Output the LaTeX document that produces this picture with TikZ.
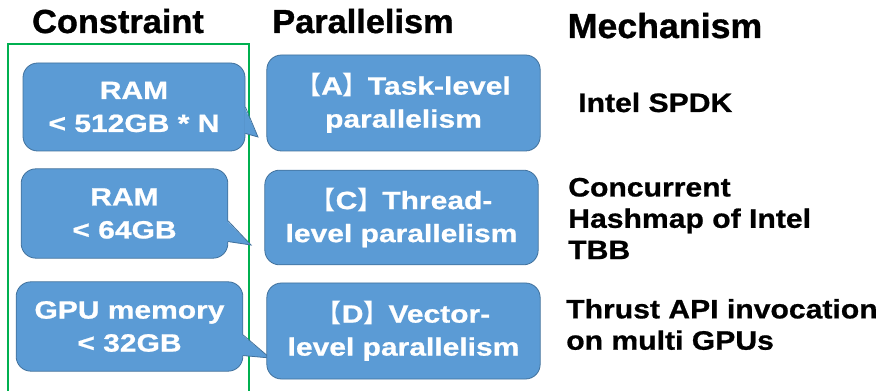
\documentclass[tikz,border=0pt]{standalone}
\usepackage{fontspec}
\setmainfont{Liberation Sans}
\newfontfamily\headfont{Liberation Sans}[FakeStretch=1.03,FakeBold=1]
\newfontfamily\boxfont{Liberation Sans}[FakeStretch=1.2,FakeBold=0.8]
\newfontfamily\mechfont{Liberation Sans}[FakeStretch=1.13,FakeBold=0.8]
\newfontfamily\cjk{Noto Sans CJK SC}
\usetikzlibrary{positioning,calc}
\definecolor{boxblue}{RGB}{91,155,213}
\definecolor{boxedge}{RGB}{65,113,156}
\definecolor{framegreen}{RGB}{0,176,80}

\begin{document}
\begin{tikzpicture}[x=0.75pt,y=-0.75pt,
    head/.style={font=\headfont\bfseries\fontsize{25}{30}\selectfont,inner sep=0pt,anchor=base},
    cons/.style={rectangle,rounded corners=11pt,draw=boxedge,line width=0.6pt,fill=boxblue,text=white,align=center,inner sep=0pt,font=\boxfont\bfseries\fontsize{18.75}{24.75}\selectfont},
    para/.style={cons,minimum width=205pt,minimum height=72pt},
    mech/.style={align=left,inner sep=0pt,anchor=west,font=\mechfont\bfseries\fontsize{20}{23.5}\selectfont},
    ptr/.style={draw=boxedge,line width=0.6pt}
]
    \useasboundingbox (0,0) rectangle (888,391);
    \draw[framegreen,line width=1.2pt] (8,395) -- (8,44) -- (249,44) -- (249,395);

    \node[head] (hcons) at (118,33) {Constraint};
    \node[head] (hpara) at (363,33) {Parallelism};
    \node[head,font=\headfont\bfseries\fontsize{26}{30}\selectfont] (hmech) at (665,38) {Mechanism};

    \node[cons,minimum width=166.5pt,minimum height=66pt] (ram1) at (134,107) {RAM\\< 512GB * N};
    \node[cons,minimum width=155pt,minimum height=67pt] (ram2) at (124.5,213.5) {RAM\\< 64GB};
    \node[cons,minimum width=170pt,minimum height=67pt] (gpu) at (129.5,326.5) {GPU memory\\< 32GB};

    \coordinate (p1) at (258,137);
    \coordinate (p2) at (251,245);
    \coordinate (p3) at (270,358);
    \fill[boxblue] ($(ram1.east)+(-1,0)$) -- (p1) -- ($(ram1.south east)+(-1,-18)$) -- cycle;
    \draw[ptr] (ram1.east) -- (p1) -- ($(ram1.south east)+(0,-18)$);
    \fill[boxblue] ($(ram2.east)+(-1,7.5)$) -- (p2) -- ($(ram2.south east)+(-1,-17)$) -- cycle;
    \draw[ptr] ($(ram2.east)+(0,7.5)$) -- (p2) -- ($(ram2.south east)+(0,-17)$);
    \fill[boxblue] ($(gpu.east)+(-1,8.5)$) -- (p3) -- ($(gpu.south east)+(-1,-16)$) -- cycle;
    \draw[ptr] ($(gpu.east)+(0,8.5)$) -- (p3) -- ($(gpu.south east)+(0,-16)$);

    \node[para] (task) at (403.5,103) {{\cjk 【}A{\cjk 】}Task-level\\parallelism};
    \node[para,minimum height=71pt] (thread) at (401.5,217.5) {{\cjk 【}C{\cjk 】}Thread-\\level parallelism};
    \node[para] (vector) at (403.5,331) {{\cjk 【}D{\cjk 】}Vector-\\level parallelism};

    \node[mech,anchor=base west] (spdk) at (578,112) {Intel SPDK};
    \node[mech] (tbb) at (568,218.5) {Concurrent\\Hashmap of Intel\\TBB};
    \node[mech] (thrust) at (566,324.5) {Thrust API invocation\\on multi GPUs};
\end{tikzpicture}
\end{document}
